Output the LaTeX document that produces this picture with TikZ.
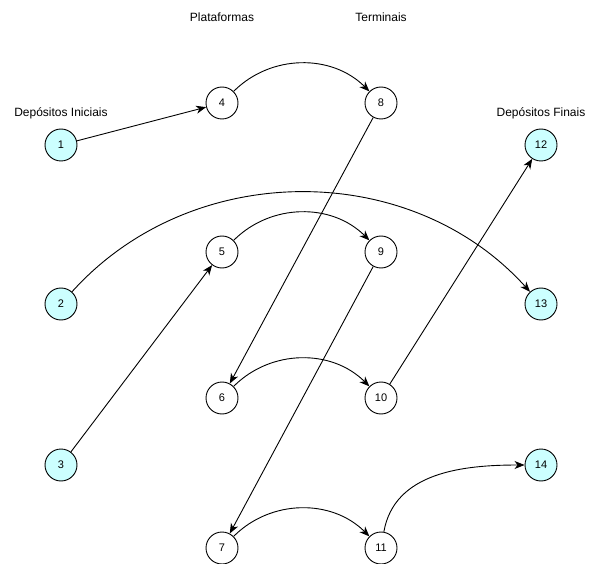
\documentclass[tikz,border=0pt]{standalone}
\usepackage{fontspec}
\setmainfont{Liberation Sans}
\usetikzlibrary{arrows.meta}
\definecolor{depotfill}{HTML}{CCFFFF}
\begin{document}
\begin{tikzpicture}[x=1pt,y=-1pt,
  place/.style={circle,draw,line width=0.9pt,minimum size=32pt,inner sep=0pt,font=\fontsize{11}{13}\selectfont,fill=white},
  depot/.style={place,fill=depotfill},
  title/.style={font=\fontsize{12}{14}\selectfont,inner sep=0pt},
  flow/.style={-{Stealth[length=10pt,width=8pt,inset=3pt]},line width=0.9pt}]
\useasboundingbox (0,0) rectangle (592,564);
% column headings
\node[title] (hplat) at (222,17) {Plataformas};
\node[title] (hterm) at (381,17) {Terminais};
\node[title] (hini) at (61,113) {Depósitos Iniciais};
\node[title] (hfin) at (541,113) {Depósitos Finais};
% initial depots
\node[depot] (n1) at (61,145) {1};
\node[depot] (n2) at (61,304) {2};
\node[depot] (n3) at (61,465) {3};
% platforms
\node[place] (n4) at (222,103) {4};
\node[place] (n5) at (222,252) {5};
\node[place] (n6) at (222,398) {6};
\node[place] (n7) at (222,548) {7};
% terminals
\node[place] (n8) at (381,103) {8};
\node[place] (n9) at (381,252) {9};
\node[place] (n10) at (381,398) {10};
\node[place] (n11) at (381,548) {11};
% final depots
\node[depot] (n12) at (541,145) {12};
\node[depot] (n13) at (541,304) {13};
\node[depot] (n14) at (541,465) {14};
% flows
\draw[flow] (n1) -- (n4);
\draw[flow] (n4) to[bend left=45] (n8);
\draw[flow] (n8) -- (n6);
\draw[flow] (n2) to[bend left=48] (n13);
\draw[flow] (n5) to[bend left=45] (n9);
\draw[flow] (n3) -- (n5);
\draw[flow] (n9) -- (n7);
\draw[flow] (n6) to[bend left=45] (n10);
\draw[flow] (n10) -- (n12);
\draw[flow] (n7) to[bend left=45] (n11);
\draw[flow] (n11) to[out=80,in=180] (n14);
\end{tikzpicture}
\end{document}
